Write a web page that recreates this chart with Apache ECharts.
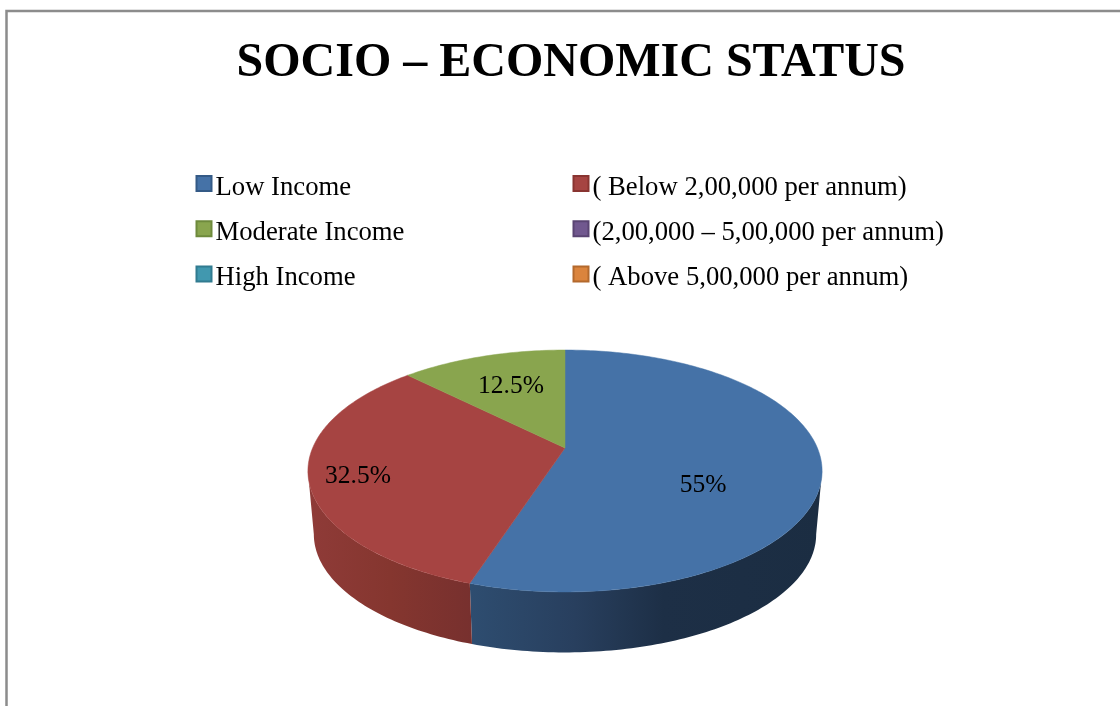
<!DOCTYPE html>
<html>
<head>
<meta charset="utf-8">
<style>html,body{margin:0;padding:0;background:#fff}#chart{width:1120px;height:706px}</style>
<script src="https://cdn.jsdelivr.net/npm/echarts@6/dist/echarts.min.js"></script>
</head>
<body>
<div id="chart"></div>
<script>
const titleText = 'SOCIO \u2013 ECONOMIC STATUS';
const categories = ['Low Income', '( Below 2,00,000 per annum)', 'Moderate Income',
  '(2,00,000 \u2013 5,00,000 per annum)', 'High Income', '( Above 5,00,000 per annum)'];
const shares = [55, 32.5, 12.5, 0, 0, 0];
const shareLabels = ['55%', '32.5%', '12.5%', '', '', ''];

const topColors = ['#4572a7', '#a64442', '#89a54e', '#71588f', '#4198af', '#db843d'];
const edgeColors = ['#345a86', '#893431', '#6e8a3c', '#5a4473', '#317b90', '#b3692d'];
const wallStops = [
  [[0, '#2e4d70'], [0.3, '#283f5e'], [0.55, '#1d2f46'], [1, '#1b2d42']],
  [[0, '#8f3b38'], [0.5, '#85362f'], [1, '#77302e']]
];
const labelSpots = [[703, 485], [358, 476], [511, 386]];

// Perspective disc: a unit circle seen from above, nearer edge larger.
const disc = { cx: 565, apexY: 448, a: 252.4, b: 116.6, k: 0.19 };
const depth = { scale: 0.977, apexY: 511.8 };

function rimPoint(frac, layer) {
  const t = frac * 2 * Math.PI;
  const u = Math.sin(t), v = -Math.cos(t);
  const w = 1 - disc.k * v;
  const s = layer ? depth.scale : 1;
  const y0 = layer ? depth.apexY : disc.apexY;
  return [disc.cx + s * disc.a * u / w, y0 + s * disc.b * v / w];
}

function arc(from, to, layer) {
  const n = Math.max(2, Math.ceil(Math.abs(to - from) * 360));
  const pts = [];
  for (let i = 0; i <= n; i++) pts.push(rimPoint(from + (to - from) * i / n, layer));
  return pts;
}

// The part of the rim that faces the viewer, as fractions of the full turn.
const frontStart = Math.acos(-disc.k) / (2 * Math.PI);
const frontEnd = 1 - frontStart;
const total = shares.reduce((a, b) => a + b, 0);

function renderSlice(params, api) {
  const idx = params.seriesIndex;
  const value = api.value(0);
  if (!value) return { type: 'group', children: [] };
  const before = shares.slice(0, idx).reduce((a, b) => a + b, 0);
  const start = before / total;
  const end = (before + value) / total;
  const children = [];

  const wallFrom = Math.max(start, frontStart);
  const wallTo = Math.min(end, frontEnd);
  if (wallTo > wallFrom) {
    const stops = wallStops[idx] || [[0, topColors[idx]], [1, topColors[idx]]];
    children.push({
      type: 'polygon',
      shape: { points: arc(wallFrom, wallTo, 0).concat(arc(wallFrom, wallTo, 1).reverse()) },
      style: {
        fill: {
          type: 'linear', x: 0, y: 0, x2: 1, y2: 0,
          colorStops: stops.map(s => ({ offset: s[0], color: s[1] }))
        }
      },
      z2: 1
    });
  }
  children.push({
    type: 'polygon',
    shape: { points: [[disc.cx, disc.apexY]].concat(arc(start, end, 0)) },
    style: { fill: topColors[idx], stroke: topColors[idx], lineWidth: 0.5 },
    z2: 2
  });
  children.push({
    type: 'text',
    x: labelSpots[idx][0],
    y: labelSpots[idx][1],
    style: {
      text: shareLabels[idx],
      font: '25.5px "Liberation Serif", serif',
      fill: '#000',
      align: 'center',
      verticalAlign: 'middle'
    },
    z2: 3
  });
  return { type: 'group', children };
}

const legendRow = (i) => ({
  name: categories[i],
  icon: 'rect',
  itemStyle: { color: topColors[i], borderColor: edgeColors[i], borderWidth: 2 }
});
const legendBase = {
  orient: 'vertical',
  top: 174,
  itemWidth: 15,
  itemHeight: 15,
  itemGap: 18.2,
  padding: 0,
  selectedMode: false,
  formatter: (name) => `{t|${name}}`,
  textStyle: {
    rich: {
      t: { fontFamily: '"Liberation Serif", serif', fontSize: 26.7, color: '#000', padding: [8, 0, 0, -1] }
    }
  }
};

const chart = echarts.init(document.getElementById('chart'), null, { renderer: 'canvas' });
chart.setOption({
  animation: false,
  backgroundColor: '#fff',
  title: {
    text: titleText,
    left: 566,
    top: 35,
    textAlign: 'center',
    textStyle: { fontFamily: '"Liberation Serif", serif', fontWeight: 'bold', fontSize: 48, color: '#000' }
  },
  legend: [
    Object.assign({}, legendBase, { left: 195.5, data: [0, 2, 4].map(legendRow) }),
    Object.assign({}, legendBase, { left: 572.5, data: [1, 3, 5].map(legendRow) })
  ],
  graphic: [{
    type: 'rect',
    shape: { x: 6.5, y: 11, width: 1300, height: 900 },
    style: { fill: 'none', stroke: '#8c8c8c', lineWidth: 2.5 },
    silent: true,
    z: -1
  }],
  series: categories.map((name, i) => ({
    type: 'custom',
    name,
    coordinateSystem: 'none',
    itemStyle: { color: topColors[i] },
    data: [[shares[i]]],
    renderItem: renderSlice
  }))
});
</script>
</body>
</html>
